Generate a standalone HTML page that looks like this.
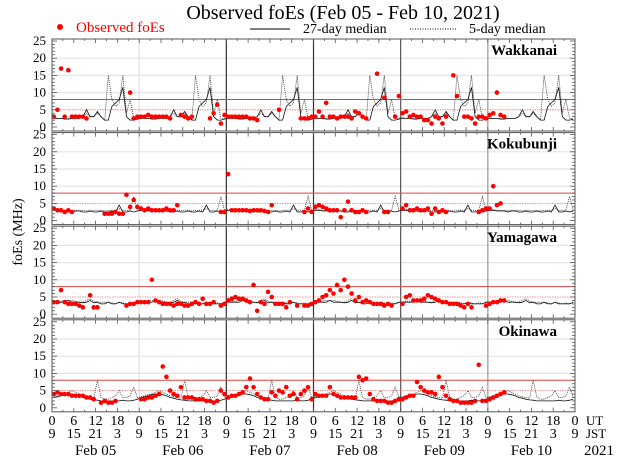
<!DOCTYPE html>
<html><head><meta charset="utf-8"><style>
html,body{margin:0;padding:0;background:#fff;}
svg{display:block;font-family:"Liberation Serif",serif;}
</style></head><body>
<svg id="chart" width="640" height="457" viewBox="0 0 640 457">
<text x="343" y="19" font-size="20" text-anchor="middle">Observed foEs (Feb 05 - Feb 10, 2021)</text>
<g>
<circle cx="60" cy="27" r="3" fill="#f00"/>
<text x="76" y="32" font-size="15" fill="#f00">Observed foEs</text>
<line x1="250" y1="29" x2="290" y2="29" stroke="#000" stroke-width="1"/>
<text x="303" y="33" font-size="14">27-day median</text>
<line x1="410" y1="29" x2="456" y2="29" stroke="#000" stroke-width="1" stroke-dasharray="1,1.5"/>
<text x="469" y="33" font-size="14">5-day median</text>
</g>
<text transform="translate(22,232) rotate(-90)" font-size="14" text-anchor="middle">foEs (MHz)</text>
<g id="plots"></g>
</svg>
<script>
const stations = ["Wakkanai","Kokubunji","Yamagawa","Okinawa"];
const dayLabels = ["Feb 05","Feb 06","Feb 07","Feb 08","Feb 09","Feb 10"];
const utTicks = [0,6,12,18];
const jstTicks = [9,15,21,3];
const yTicks = [0,5,10,15,20,25];
const N = null;
// hourly observed foEs (MHz), Feb05 00UT .. Feb10 23UT
const obsWakkanai = [
3,5,17,3,16.5,3,3,3,3,2.5,N,N,N,N,N,N,N,N,N,N,N,10,2.5,3,
3,3,3.5,3,3,3,3,3,2.5,N,N,3.5,3,2.5,3,N,N,N,N,2.5,4,6.5,1,3.5,
3,3,3,3,3,3,2.5,2.5,2,N,N,N,N,N,5,N,N,N,N,N,2.5,2.5,2.5,3,
3,4.5,3,7,3,3,2.5,3,3,3,2.5,4.5,4,3,2.5,N,N,15.5,N,8.5,N,N,3,9,
4,4.5,3,3.5,3,3,2,2,1,3,2.5,1,3,N,15,9,N,3,3,2.5,1,3,3,2.5,
3.5,4,10,3.5,3,N,N,N,N,N,N,N,N,N,N,N,N,N,N,N,N,N,N,N];
const obsKokubunji = [
3.5,3,3,2.5,3,2.5,N,N,N,N,N,N,N,N,2,2,2,2.5,2,2,7.5,4,6,4,
3.5,3,3.5,3,3,3,3,3.5,3,3,4.5,N,N,N,N,N,N,N,N,N,N,N,2.5,2.5,
13.5,3,3,3,3,3,2.8,3,3,3,2.8,2.5,4.5,N,N,N,N,N,N,N,N,2.5,3.5,2.5,
4,4.5,4,3.5,3,3,3,1,3,5.5,3,2.5,2.5,3,2.5,N,N,N,N,2.5,2.5,N,N,N,
3.5,4.5,3,3,3.5,3,3,3.5,2,3.5,2.5,3,2.5,N,N,N,N,N,N,N,N,2.5,3,3.5,
3.5,10,4.5,5,N,N,N,N,N,N,N,N,N,N,N,N,N,N,N,N,N,N,N,N];
const obsYamagawa = [
3.5,3.5,7,3.5,3,3,3,2.5,2,N,5.5,2,2,N,N,N,N,N,N,N,2.5,3,3,3.5,
3.5,3.5,3.5,10,4,3.5,3,3,3,2.5,3,3,2.5,2.5,3,3.5,3,4.5,3,3,3.5,N,2.5,3,
4,4.5,5,4.5,4.5,4,3.5,8.5,1,3.5,3,6.5,5,3,3,3,2,3.5,N,2.5,N,2.5,2.5,3,
3.5,4,5,5.5,7,6,8.5,7,10,8,6,4,5,3.5,4,3.5,3,3,3,2.5,3,2.5,N,N,
3,5,5.5,4,4,4,4.5,5.5,5,4.5,4,3.5,3.5,3,3,3,2.5,2,3,2,N,N,N,2.5,
3,3.5,3.5,4,4,N,N,N,N,N,N,N,N,N,N,N,N,N,N,N,N,N,N,N];
const obsOkinawa = [
4,4.5,4,4,4,3.5,3.5,3.5,3.5,3,3,2.5,N,1.5,2,1.5,1.5,2,N,N,N,N,N,N,
2.5,2.5,3,3,3.5,4,12,9,5,4,3.5,6,3,3,3,2.5,2.5,2.5,2,2,1.5,2,5,4,
3,3.5,3.5,4,4.5,6,8.5,6,4,3,2.5,2.5,4.5,3.5,5,4.5,6,3.5,4,2.5,4,5,6,2.5,
4,3.5,3.5,3.5,6,4,3.5,3,3,3,3,3,9,8,8.5,4,2.5,2,2,2,1.5,1.5,2,2.5,
2.5,3,3.5,3.5,7.5,6,5,4.5,4.5,4,9,6,3.5,2.5,2,2,1.5,1.5,1.5,1.5,2,12.5,2,2,
2.5,3,3.5,4,4.5,N,N,N,N,N,N,N,N,N,N,N,N,N,N,N,N,N,N,N];
// daily 27-day median and 5-day median patterns (hourly, UT 0..23)
const med27Wakkanai = [2.5,2.5,2.5,2.3,2.3,2.5,2.5,2.5,3,5,3,3,4.5,3,2,2,6,7,8,11.5,3,2,2,2.3];
const med5Wakkanai  = [2.8,2.5,2.5,2.5,2.5,2.5,2.5,2.5,3,4,3,3,4,3,2,15,8,6,7,15,4,8,2.5,2.5];
const med27Kokubunji = [3,3,2.8,2.8,2.8,2.5,2.8,2.8,2.5,2.5,2.8,2.5,2.5,2.8,2.5,2.5,2.8,2.5,4.5,2.5,2.5,2.8,2.5,2.8];
const med5Kokubunji  = [3.2,3.2,3,3,3,3,3,3,3,2.8,3,3,3,3,2.8,3,3,3,3.5,3,3,3,7,3];
const med27Yamagawa = [3.5,3.5,3.5,3.5,4,3.5,3.5,3.5,3.3,3.5,4,3.3,3.5,3,3,3.5,3,3,3.5,3,3,3,3,3.5];
const med5Yamagawa  = [3.5,3.8,3.8,4,4,4,3.8,3.5,3.5,4,4.5,3.8,3.5,3.5,3.5,3.5,3.3,3,3.5,3.3,3,3.3,3,3.5];
const med27Okinawa = [3,3.2,3.5,3.8,4,4,3.8,3.5,3,2.8,2.5,2.3,2.2,2,2,2,2,2,2,2.2,2,2,2.2,2.5];
const med5Okinawa  = [3.2,3.5,3.8,4,4.5,5,4.5,4,3.5,3.2,3,2.8,8,3,2.5,2.5,3,3.5,5,3,3,3.5,6,3];

const obsAll = [obsWakkanai,obsKokubunji,obsYamagawa,obsOkinawa];
const med27All = [med27Wakkanai,med27Kokubunji,med27Yamagawa,med27Okinawa];
const med5All = [med5Wakkanai,med5Kokubunji,med5Yamagawa,med5Okinawa];

const NS="http://www.w3.org/2000/svg";
const X0=52, X1=575, HOURS=144;
const xs = h => X0 + (X1-X0)*h/HOURS;
const panelTop = i => 39 + i*93.6;
const zeroY = i => panelTop(i) + 88;
const ys = (i,v) => zeroY(i) - v*3.44;
const root=document.getElementById('plots');
function mk(tag,attrs,parent){const e=document.createElementNS(NS,tag);for(const k in attrs)e.setAttribute(k,attrs[k]);(parent||root).appendChild(e);return e;}

stations.forEach((st,i)=>{
  const g=mk('g',{});
  
  
  const top=panelTop(i), bot=top+92;
  [10,15,20].forEach(v=>{const l=mk('line',{x1:X0,x2:X1,y1:ys(i,v),y2:ys(i,v),stroke:'#e4e4e4','stroke-width':1.2},g);
    
    });
  const sepCol=['#e6e6e6','#333','#333','#555','#999'];
  for(let d=1;d<6;d++){const l=mk('line',{x1:xs(d*24),x2:xs(d*24),y1:top,y2:bot,stroke:sepCol[d-1],'stroke-width':d===1?1.5:1.2},g);
    
    }
  const t8=mk('line',{x1:X0,x2:X1,y1:ys(i,8),y2:ys(i,8),stroke:'#d44','stroke-width':1},g);
  
  
  const t5=mk('line',{x1:X0,x2:X1,y1:ys(i,5),y2:ys(i,5),stroke:'#e77','stroke-width':0.8,'stroke-dasharray':'1.5,1'},g);
  
  
  let p27='',p5='';
  for(let h=0;h<HOURS;h++){
    p27+=(h?'L':'M')+xs(h+0.5).toFixed(1)+','+ys(i,med27All[i][h%24]).toFixed(1);
    p5+=(h?'L':'M')+xs(h+0.5).toFixed(1)+','+ys(i,med5All[i][h%24]).toFixed(1);
  }
  const l5=mk('path',{d:p5,fill:'none',stroke:'#333','stroke-width':0.8,'stroke-dasharray':'1,1'},g);
  
  
  const l27=mk('path',{d:p27,fill:'none',stroke:'#111','stroke-width':0.8},g);
  
  
  obsAll[i].forEach((v,h)=>{ if(v===null) return;
    const c=mk('circle',{cx:xs(h+0.5),cy:ys(i,v),r:2.3,fill:'#f00'},g);
    
    
  });
  const fr=mk('rect',{x:X0,y:top,width:X1-X0,height:92,fill:'none',stroke:'#555','stroke-width':1},g);
  
  
  for(let v=0;v<=25;v++){const len=v%5===0?5:3;
    mk('line',{x1:X0,x2:X0+len,y1:ys(i,v),y2:ys(i,v),stroke:'#555','stroke-width':0.8},g);
    mk('line',{x1:X1,x2:X1-len,y1:ys(i,v),y2:ys(i,v),stroke:'#555','stroke-width':0.8},g);}
  yTicks.forEach(v=>{const t=mk('text',{x:46,y:ys(i,v)+4,'font-size':13,'text-anchor':'end'},g);t.textContent=v;
    
    });
  for(let h=0;h<=HOURS;h+=3){const len=h%6===0?4:2;
    mk('line',{x1:xs(h),x2:xs(h),y1:top,y2:top+len,stroke:'#555','stroke-width':0.8},g);
    mk('line',{x1:xs(h),x2:xs(h),y1:bot,y2:bot-len,stroke:'#555','stroke-width':0.8},g);}
  const nm=mk('text',{x:557,y:top+16,'font-size':15,'text-anchor':'end','font-weight':'bold'},g);
  nm.textContent=st;
  
  
});
for(let d=0;d<6;d++){
  utTicks.forEach((u,k)=>{const h=d*24+u;
    const t=mk('text',{x:xs(h),y:425,'font-size':14,'text-anchor':'middle'});t.textContent=u;
    
    
    const j=mk('text',{x:xs(h),y:438,'font-size':14,'text-anchor':'middle'});j.textContent=jstTicks[k];
    
    });
  const dl=mk('text',{x:xs(d*24+12),y:455,'font-size':15,'text-anchor':'middle'});dl.textContent=dayLabels[d];
  
  
}
{const t=mk('text',{x:xs(144),y:425,'font-size':14,'text-anchor':'middle'});t.textContent='0';
 
 
 const j=mk('text',{x:xs(144),y:438,'font-size':14,'text-anchor':'middle'});j.textContent='9';
 
 }
const ut=mk('text',{x:586,y:425,'font-size':13});ut.textContent='UT';


const js=mk('text',{x:586,y:438,'font-size':13});js.textContent='JST';


const yr=mk('text',{x:584,y:455,'font-size':15});yr.textContent='2021';


</script>
</body></html>
